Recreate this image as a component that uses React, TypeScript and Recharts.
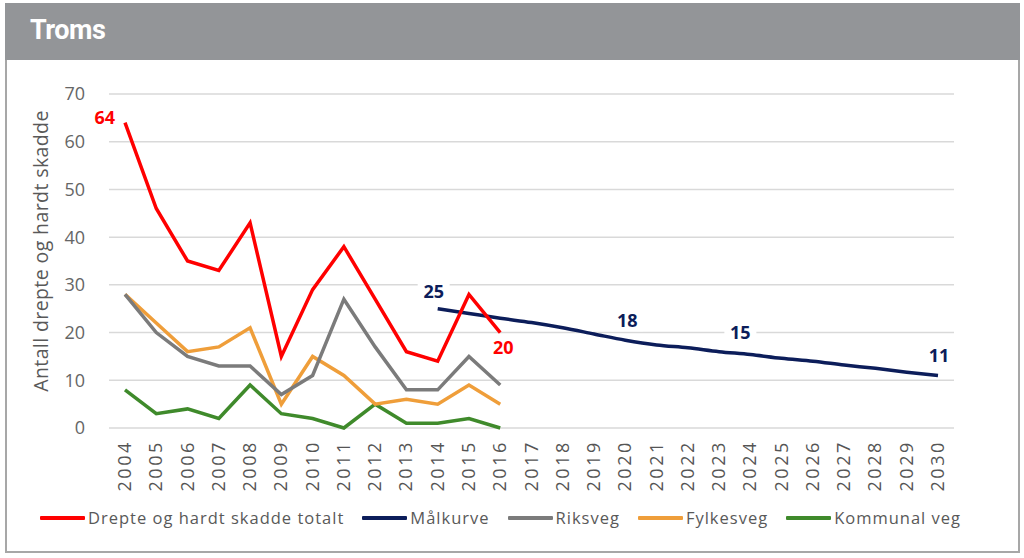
import { LineChart, Line, CartesianGrid, XAxis, YAxis, Legend, LabelList } from "recharts";

const years = [
  "2004", "2005", "2006", "2007", "2008", "2009", "2010", "2011", "2012",
  "2013", "2014", "2015", "2016", "2017", "2018", "2019", "2020", "2021",
  "2022", "2023", "2024", "2025", "2026", "2027", "2028", "2029", "2030",
];

const totalt = [64, 46, 35, 33, 43, 15, 29, 38, 27, 16, 14, 28, 20];
const riksveg = [28, 20, 15, 13, 13, 7, 11, 27, 17, 8, 8, 15, 9];
const fylkesveg = [28, 22, 16, 17, 21, 5, 15, 11, 5, 6, 5, 9, 5];
const kommunalveg = [8, 3, 4, 2, 9, 3, 2, 0, 5, 1, 1, 2, 0];

// målkurve runs from 2014 to 2030
const malkurveStart = "2014";
const malkurve = [25, 24, 23, 22.1, 21, 19.7, 18.4, 17.4, 16.8, 16, 15.4, 14.6, 14, 13.2, 12.5, 11.7, 11];
const malkurveLabelled = ["2014", "2020", "2024", "2030"];

const yTicks = [0, 10, 20, 30, 40, 50, 60, 70];

const series = [
  { key: "totalt", name: "Drepte og hardt skadde totalt", color: "#ff0000" },
  { key: "malkurve", name: "Målkurve", color: "#0c1d5a" },
  { key: "riksveg", name: "Riksveg", color: "#7b7b7b" },
  { key: "fylkesveg", name: "Fylkesveg", color: "#ef9e3a" },
  { key: "kommunalveg", name: "Kommunal veg", color: "#3f8a2b" },
];

const startIdx = years.indexOf(malkurveStart);
const data = years.map((year, i) => ({
  year,
  totalt: totalt[i] ?? null,
  riksveg: riksveg[i] ?? null,
  fylkesveg: fylkesveg[i] ?? null,
  kommunalveg: kommunalveg[i] ?? null,
  malkurve: i >= startIdx ? malkurve[i - startIdx] : null,
}));

const FONT = "'Open Sans', 'DejaVu Sans', sans-serif";

const XTick = (props: any) => {
  const { x, y, payload } = props;
  return (
    <g transform={`translate(${x},${y + 12})`}>
      <text
        x={0}
        y={0}
        dy={6}
        textAnchor="end"
        transform="rotate(-90)"
        fill="#555"
        fontSize={18}
        letterSpacing={2.6}
        fontFamily={FONT}
      >
        {payload.value}
      </text>
    </g>
  );
};

const RedLabel = (props: any) => {
  const { x, y, value, index } = props;
  if (index === 0) {
    return (
      <text x={x - 10} y={y + 1} textAnchor="end" fill="#ff0000" fontSize={18} fontWeight="bold" fontFamily={FONT}>
        {value}
      </text>
    );
  }
  if (index === totalt.length - 1) {
    return (
      <text x={x + 3} y={y + 21} textAnchor="middle" fill="#ff0000" fontSize={18} fontWeight="bold" fontFamily={FONT}>
        {value}
      </text>
    );
  }
  return null;
};

const navyOffsets: Record<string, [number, number]> = {
  "2014": [-4, -11],
  "2020": [2, -13],
  "2024": [-10, -16],
  "2030": [1, -14],
};

const NavyLabel = (props: any) => {
  const { x, y, value, index } = props;
  const year = years[index];
  if (!malkurveLabelled.includes(year) || value == null) return null;
  const [dx, dy] = navyOffsets[year];
  const cx = x + dx;
  const by = y + dy;
  return (
    <g>
      <rect x={cx - 16} y={by - 15} width={32} height={19} fill="#fff" />
      <text x={cx} y={by} textAnchor="middle" fill="#0c1d5a" fontSize={18} fontWeight="bold" fontFamily={FONT}>
        {Math.round(value)}
      </text>
    </g>
  );
};

const LegendContent = () => (
  <div style={{ display: "flex", alignItems: "center", fontFamily: FONT, fontSize: 16.5, color: "#595959" }}>
    {series.map((s) => (
      <div key={s.key} style={{ display: "flex", alignItems: "center", marginRight: 18 }}>
        <span style={{ display: "inline-block", width: 45, height: 4, background: s.color, marginRight: 3, borderRadius: 1 }} />
        <span style={{ letterSpacing: 1 }}>{s.name}</span>
      </div>
    ))}
  </div>
);

const App = () => {
  return (
    <div style={{ position: "absolute", left: 0, top: 0, width: 1024, height: 558, background: "#fff" }}>
      <div
        style={{
          position: "absolute",
          left: 5,
          top: 3,
          width: 1015,
          height: 550,
          border: "2px solid #a7a7a7",
          boxSizing: "border-box",
        }}
      />
      <div
        style={{
          position: "absolute",
          left: 5,
          top: 3,
          width: 1015,
          height: 57,
          background: "#939598",
        }}
      >
        <div
          style={{
            position: "absolute",
            left: 25,
            top: 11,
            color: "#fff",
            fontFamily: "Roboto, 'Liberation Sans', sans-serif",
            fontWeight: "bold",
            fontSize: 27,
            letterSpacing: -0.5,
          }}
        >
          Troms
        </div>
      </div>

      <div
        style={{
          position: "absolute",
          left: 40,
          top: 251,
          transform: "translate(-50%, -50%) rotate(-90deg)",
          whiteSpace: "nowrap",
          fontFamily: FONT,
          fontSize: 19.5,
          letterSpacing: 0.4,
          color: "#595959",
        }}
      >
        Antall drepte og hardt skadde
      </div>

      <div style={{ position: "absolute", left: 5, top: 60 }}>
        <LineChart width={1014} height={493} data={data} margin={{ top: 34, right: 65, bottom: 32, left: 0 }}>
          <CartesianGrid vertical={false} stroke="#d9d9d9" strokeWidth={1.5} />
          <XAxis
            dataKey="year"
            interval={0}
            axisLine={false}
            tickLine={false}
            tickSize={0}
            tickMargin={0}
            height={70}
            padding={{ left: 16, right: 16 }}
            tick={<XTick />}
          />
          <YAxis
            domain={[0, 70]}
            ticks={yTicks}
            width={104}
            axisLine={false}
            tickLine={false}
            tickSize={0}
            tickMargin={24}
            tick={{ fill: "#666", fontSize: 18, fontFamily: FONT }}
          />
          <Legend
            content={<LegendContent />}
            wrapperStyle={{ position: "absolute", left: 35, top: 446, width: "auto" }}
          />
          <Line
            type="monotone"
            dataKey="malkurve"
            name="Målkurve"
            stroke="#0c1d5a"
            strokeWidth={3.5}
            dot={false}
            isAnimationActive={false}
          >
            <LabelList dataKey="malkurve" content={<NavyLabel />} />
          </Line>
          <Line type="linear" dataKey="kommunalveg" stroke="#3f8a2b" strokeWidth={3.5} dot={false} isAnimationActive={false} />
          <Line type="linear" dataKey="fylkesveg" stroke="#ef9e3a" strokeWidth={3.5} dot={false} isAnimationActive={false} />
          <Line type="linear" dataKey="riksveg" stroke="#7b7b7b" strokeWidth={3.5} dot={false} isAnimationActive={false} />
          <Line type="linear" dataKey="totalt" stroke="#ff0000" strokeWidth={3.5} dot={false} isAnimationActive={false}>
            <LabelList dataKey="totalt" content={<RedLabel />} />
          </Line>
        </LineChart>
      </div>
    </div>
  );
};

export default App;
